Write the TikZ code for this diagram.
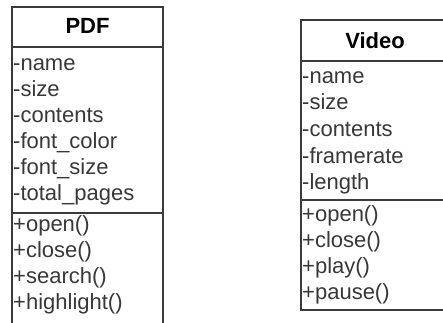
\documentclass[tikz,border=0pt]{standalone}
\usepackage{fontspec}
\setmainfont{Liberation Sans}
\definecolor{linegray}{HTML}{3A3A3A}
\definecolor{textgray}{HTML}{383838}

\begin{document}
\begin{tikzpicture}[x=1pt,y=-1pt,
	box/.style={draw=linegray, line width=1.6pt},
	member/.style={anchor=base west, inner sep=0pt, text=textgray, font=\fontsize{22}{26}\selectfont},
	classname/.style={inner sep=0pt, text=black, font=\bfseries\fontsize{22}{26}\selectfont}]
		\useasboundingbox (0,0) rectangle (443,322);
		\clip (0,0) rectangle (443,322);
		% PDF class
		\draw[box] (12,330) -- (12,7) -- (163,7) -- (163,330);
		\draw[box] (12,47) -- (163,47);
		\draw[box] (12,213) -- (163,213);
		\node[classname] (pdf) at (87.5,26) {PDF};
		\foreach \t [count=\i] in {-name,-size,-contents,-font\_color,-font\_size,-total\_pages}
			\node[member] (pdfattr\i) at (13,70+26*\i-26) {\t};
		\foreach \t [count=\i] in {+open(),+close(),+search(),+highlight()}
			\node[member] (pdfop\i) at (13,231+26*\i-26) {\t};
		% Video class
		\draw[box] (460,20) -- (301,20) -- (301,310) -- (460,310);
		\draw[box] (301,61) -- (460,61);
		\draw[box] (301,200) -- (460,200);
		\node[classname] (video) at (375,40.5) {Video};
		\foreach \t [count=\i] in {-name,-size,-contents,-framerate,-length}
			\node[member] (vidattr\i) at (302,83+26.7*\i-26.7) {\t};
		\foreach \t [count=\i] in {+open(),+close(),+play(),+pause()}
			\node[member] (vidop\i) at (302,221+26*\i-26) {\t};
		\end{tikzpicture}
\end{document}
